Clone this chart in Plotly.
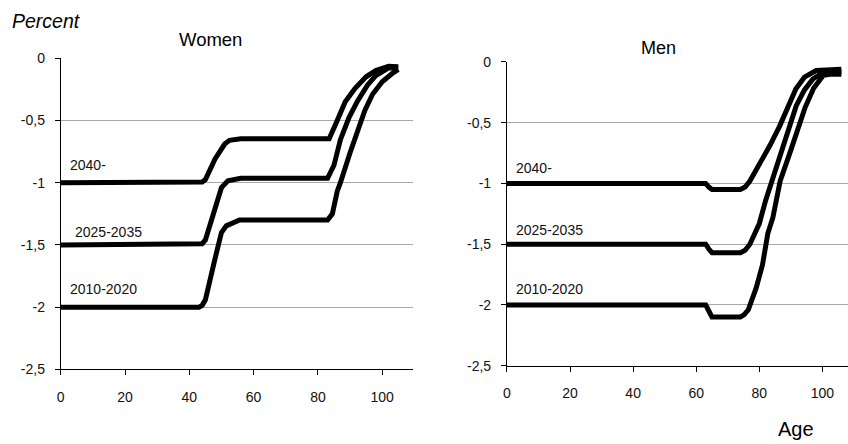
import plotly.graph_objects as go

# Change in mortality by age (percent), women
women_age_2040 = [0, 43, 44, 45, 48, 51, 52.5, 56, 83.5, 85.5, 88.5, 91.5, 95, 98, 102, 105]
women_val_2040 = [-1, -1, -0.995, -0.975, -0.81, -0.69, -0.66, -0.648, -0.648, -0.53, -0.35, -0.245, -0.15, -0.10, -0.065, -0.07]

women_age_2025 = [0, 43, 44, 45, 47.5, 50, 52, 56, 83, 85, 87, 89.7, 92.3, 95.4, 98, 102, 105]
women_val_2025 = [-1.5, -1.5, -1.49, -1.46, -1.25, -1.04, -0.985, -0.965, -0.965, -0.86, -0.655, -0.475, -0.346, -0.217, -0.14, -0.078, -0.08]

women_age_2010 = [0, 43, 44, 45, 48, 50, 51.5, 55.6, 83, 84.5, 86, 87, 90, 92, 94.6, 97, 100, 103, 105]
women_val_2010 = [-2, -2, -1.985, -1.94, -1.61, -1.40, -1.347, -1.30, -1.30, -1.25, -1.07, -1.0, -0.76, -0.6, -0.42, -0.29, -0.19, -0.126, -0.09]

# Change in mortality by age (percent), men
men_age_2040 = [0, 63, 64, 65, 74, 75.5, 77, 80, 83.3, 86.4, 89.5, 91.6, 94.3, 98, 106]
men_val_2040 = [-1, -1, -1.03, -1.05, -1.05, -1.03, -0.98, -0.85, -0.69, -0.53, -0.35, -0.22, -0.125, -0.07, -0.06]

men_age_2025 = [0, 63, 64, 65, 74, 75.5, 77, 80, 82, 84, 85.5, 89, 91.7, 94.3, 97, 100, 103, 106]
men_val_2025 = [-1.5, -1.5, -1.54, -1.57, -1.57, -1.55, -1.5, -1.33, -1.14, -0.98, -0.85, -0.55, -0.36, -0.23, -0.14, -0.09, -0.08, -0.08]

men_age_2010 = [0, 63, 64, 65, 74, 75.2, 76.5, 79, 81, 82.7, 84.3, 85.2, 86.6, 89.8, 92.4, 94.5, 97.2, 100.3, 103, 106]
men_val_2010 = [-2, -2, -2.05, -2.1, -2.1, -2.08, -2.04, -1.86, -1.67, -1.41, -1.28, -1.14, -0.98, -0.74, -0.53, -0.375, -0.217, -0.11, -0.1, -0.1]

series_names = ["2040-", "2025-2035", "2010-2020"]

y_tickvals = [0, -0.5, -1, -1.5, -2, -2.5]
y_ticktext = ["0", "-0,5", "-1", "-1,5", "-2", "-2,5"]
x_tickvals = [0, 20, 40, 60, 80, 100]

W, H = 848, 444
FONT = "Liberation Sans, Arial, sans-serif"


def px(x):
    return x / W


def py(y):
    return 1 - y / H


fig = go.Figure()

women = [(women_age_2040, women_val_2040), (women_age_2025, women_val_2025), (women_age_2010, women_val_2010)]
men = [(men_age_2040, men_val_2040), (men_age_2025, men_val_2025), (men_age_2010, men_val_2010)]

for name, (a, v) in zip(series_names, women):
    fig.add_trace(go.Scatter(x=a, y=v, mode="lines", name=name, xaxis="x", yaxis="y",
                             line=dict(color="black", width=5)))
for name, (a, v) in zip(series_names, men):
    fig.add_trace(go.Scatter(x=a, y=v, mode="lines", name=name, xaxis="x2", yaxis="y2",
                             line=dict(color="black", width=5)))

tickfont = dict(family=FONT, size=14, color="#111111")

xcommon = dict(tickvals=x_tickvals, ticks="outside", ticklen=5, tickcolor="black",
               showline=True, linecolor="black", linewidth=1, showgrid=False,
               zeroline=False, tickfont=tickfont, ticklabelstandoff=10, fixedrange=True)
ycommon = dict(tickvals=y_tickvals, ticktext=y_ticktext, range=[-2.5, 0], ticks="outside",
               ticklen=5, tickcolor="black", showline=True, linecolor="black", linewidth=1,
               showgrid=True, gridcolor="#a8a8a8", gridwidth=1, zeroline=False,
               tickfont=tickfont, ticklabelstandoff=7, fixedrange=True)

fig.update_layout(
    width=W, height=H,
    margin=dict(l=0, r=0, t=0, b=0),
    paper_bgcolor="white", plot_bgcolor="white",
    showlegend=False,
    xaxis=dict(domain=[px(57), px(411)], range=[0, 109.6], anchor="y", **xcommon),
    yaxis=dict(domain=[py(375), py(52)], anchor="x", **ycommon),
    xaxis2=dict(domain=[px(505.3), 1.0], range=[0, 108.1], anchor="y2", **xcommon),
    yaxis2=dict(domain=[py(371), py(56)], anchor="x2", **ycommon),
)

annotations = [
    dict(text="<i>Percent</i>", x=px(6), y=py(13), xanchor="left", yanchor="middle",
         font=dict(family=FONT, size=19.5, color="black")),
    dict(text="Women", x=px(207), y=py(33), xanchor="center", yanchor="middle",
         font=dict(family=FONT, size=18.5, color="black")),
    dict(text="Men", x=px(658), y=py(41), xanchor="center", yanchor="middle",
         font=dict(family=FONT, size=18, color="black")),
    dict(text="Age", x=px(796), y=py(437), xanchor="center", yanchor="middle",
         font=dict(family=FONT, size=20, color="black")),
]
for a in annotations:
    a.update(xref="paper", yref="paper", showarrow=False)

# Period labels placed beside each curve
women_label_pos = [(2.2, -0.86), (3.7, -1.40), (2.2, -1.85)]
men_label_pos = [(2.2, -0.87), (2.2, -1.38), (2.2, -1.87)]
for name, (lx, ly) in zip(series_names, women_label_pos):
    annotations.append(dict(text=name, x=lx, y=ly, xref="x", yref="y", xanchor="left",
                            yanchor="middle", showarrow=False,
                            font=dict(family=FONT, size=14, color="#111111")))
for name, (lx, ly) in zip(series_names, men_label_pos):
    annotations.append(dict(text=name, x=lx, y=ly, xref="x2", yref="y2", xanchor="left",
                            yanchor="middle", showarrow=False,
                            font=dict(family=FONT, size=14, color="#111111")))

fig.update_layout(annotations=annotations)

fig.write_html("out.html", config={"displayModeBar": False})
